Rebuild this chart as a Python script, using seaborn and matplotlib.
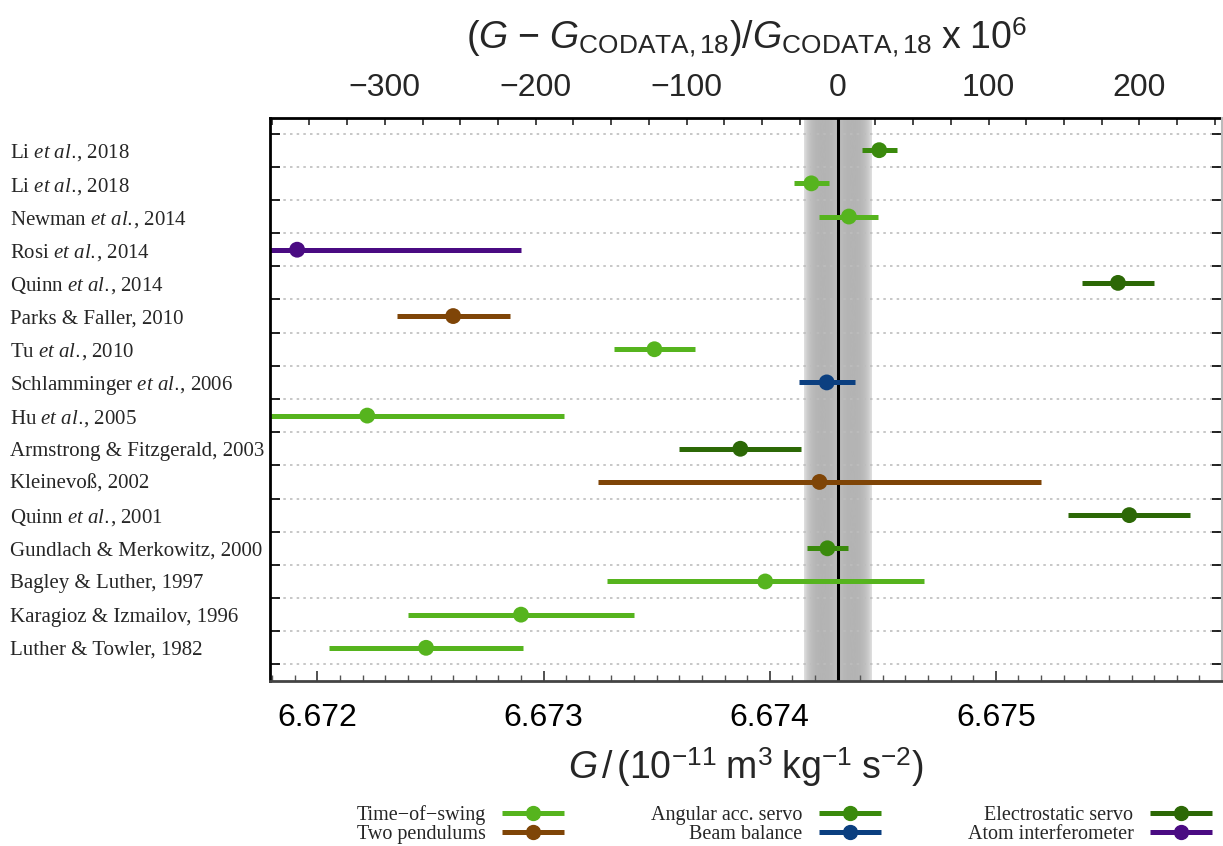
import numpy as np
import pandas as pd
import matplotlib.pyplot as plt
from matplotlib.lines import Line2D
import seaborn as sns

# measurements of G, top row first (units 1e-11 m^3 kg^-1 s^-2)
ETAL = "$\\mathit{et\\ al.}\\!$"
names = ["Li " + ETAL + ", 2018", "Li " + ETAL + ", 2018",
         "Newman " + ETAL + ", 2014", "Rosi " + ETAL + ", 2014",
         "Quinn " + ETAL + ", 2014", "Parks & Faller, 2010",
         "Tu " + ETAL + ", 2010", "Schlamminger " + ETAL + ", 2006",
         "Hu " + ETAL + ", 2005", "Armstrong & Fitzgerald, 2003",
         "Kleinevoß, 2002", "Quinn " + ETAL + ", 2001",
         "Gundlach & Merkowitz, 2000", "Bagley & Luther, 1997",
         "Karagioz & Izmailov, 1996", "Luther & Towler, 1982"]
g_values = [6.674484, 6.674184, 6.674350, 6.671910, 6.675540, 6.672600,
            6.673490, 6.674252, 6.672220, 6.673870, 6.674220, 6.675590,
            6.674255, 6.673980, 6.672900, 6.672480]
g_errors = [0.000078, 0.000078, 0.000130, 0.000990, 0.000160, 0.000250,
            0.000180, 0.000124, 0.000870, 0.000270, 0.000980, 0.000270,
            0.000092, 0.000700, 0.000500, 0.000430]
methods = ["Angular acc. servo", "Time\u2212of\u2212swing", "Time\u2212of\u2212swing",
           "Atom interferometer", "Electrostatic servo", "Two pendulums",
           "Time\u2212of\u2212swing", "Beam balance", "Time\u2212of\u2212swing",
           "Electrostatic servo", "Two pendulums", "Electrostatic servo",
           "Angular acc. servo", "Time\u2212of\u2212swing", "Time\u2212of\u2212swing",
           "Time\u2212of\u2212swing"]

legend_order = ["Time\u2212of\u2212swing", "Two pendulums", "Angular acc. servo",
                "Beam balance", "Electrostatic servo", "Atom interferometer"]
palette = {"Time\u2212of\u2212swing": "#56b41e", "Two pendulums": "#7f4507",
           "Angular acc. servo": "#3a8a0c", "Beam balance": "#0b3f80",
           "Electrostatic servo": "#2c6806", "Atom interferometer": "#4a0b82"}

G_CODATA = 6.67430
U_CODATA = 0.00015

df = pd.DataFrame({"G": g_values, "err": g_errors, "method": methods,
                   "row": np.arange(len(names))})

sns.set_theme(style="ticks")
plt.rcParams["font.family"] = ["Liberation Sans", "DejaVu Sans"]
plt.rcParams["mathtext.fontset"] = "custom"
plt.rcParams["mathtext.rm"] = "Liberation Sans"
plt.rcParams["mathtext.sf"] = "Liberation Sans:italic"
plt.rcParams["mathtext.it"] = "Liberation Serif:italic"

fig = plt.figure(figsize=(12.23, 8.46), dpi=100)
ax = fig.add_axes([270 / 1223, 1 - 681 / 846, 952 / 1223, 563 / 846])

xlim = (6.67179, 6.67600)
ylim = (16.0, -0.97)

# CODATA band with soft gradient
s = np.linspace(-1, 1, 201)
shade = 0.70 + 0.06 * (1 - np.abs(s)) ** 6 + 0.18 * np.abs(s) ** 6
ax.imshow(shade[np.newaxis, :], extent=(G_CODATA - U_CODATA, G_CODATA + U_CODATA, ylim[0], ylim[1]),
          aspect="auto", cmap="gray", vmin=0, vmax=1, zorder=0, interpolation="bicubic")
ax.axvline(G_CODATA, color="black", lw=2.2, zorder=1)

# error bars
for method, grp in df.groupby("method"):
    ax.hlines(grp["row"], grp["G"] - grp["err"], grp["G"] + grp["err"],
              colors=palette[method], lw=3.6, capstyle="butt", zorder=2)

sns.scatterplot(data=df, x="G", y="row", hue="method", palette=palette, s=130,
                linewidth=0, legend=False, ax=ax, zorder=3)

ax.set_xlim(*xlim)
ax.set_ylim(*ylim)

# y axis: labels at rows, ticks/grid at boundaries
ax.set_yticks(np.arange(-0.5, len(names), 1))
ax.set_yticklabels([])
ax.set_yticks(np.arange(len(names)), labels=names, minor=True)
for lab in ax.get_yticklabels(minor=True):
    lab.set_horizontalalignment("left")
    lab.set_fontfamily(["Liberation Serif", "DejaVu Serif"])
    lab.set_fontsize(15)
ax.tick_params(axis="y", which="minor", length=0, pad=187)
ax.tick_params(axis="y", which="major", direction="in", length=7, width=1.2,
               left=True, right=True, color="black")
for t in ax.yaxis.get_major_ticks():
    t.tick2line.set_color("#777777")
ax.grid(axis="y", which="major", ls=(0, (1.5, 2.5)), color="#bdbdbd", lw=1.2)
ax.set_ylabel("")

# bottom axis
ax.set_xticks([6.672, 6.673, 6.674, 6.675], labels=["6.672", "6.673", "6.674", "6.675"])
ax.set_xticks(np.arange(6.6718, 6.6760, 0.0001), minor=True)
ax.tick_params(axis="x", which="major", direction="in", length=7, width=1.2,
               labelsize=23, pad=16, top=False, colors="#333333", labelcolor="black")
ax.tick_params(axis="x", which="minor", direction="in", length=4, width=1.0,
               top=False, color="#555555")
ax.set_xlabel(r"$\mathsf{G}\,/\,(10^{-11}\ \mathrm{m}^3\ \mathrm{kg}^{-1}\ \mathrm{s}^{-2})$",
              fontsize=27, labelpad=9)

# top axis in ppm relative to CODATA 2018
secax = ax.secondary_xaxis("top", functions=(lambda g: (g - G_CODATA) / G_CODATA * 1e6,
                                             lambda p: G_CODATA * (1 + p * 1e-6)))
secax.set_xticks([-300, -200, -100, 0, 100, 200])
secax.set_xticks(np.arange(-375, 260, 25), minor=True)
secax.tick_params(axis="x", which="both", direction="in", length=5, width=1.2,
                  labelsize=23, pad=11)
secax.set_xlabel(r"$(\mathsf{G}\,-\,\mathsf{G}_{\mathrm{CODATA,18}})/\mathsf{G}_{\mathrm{CODATA,18}}\ \mathrm{x}\ 10^6$",
                 fontsize=27, labelpad=17)

ax.spines["top"].set_visible(False)
secax.spines["top"].set_linewidth(2)
secax.spines["top"].set_color("black")
ax.spines["left"].set_linewidth(2)
ax.spines["left"].set_color("black")
ax.spines["bottom"].set_linewidth(2)
ax.spines["bottom"].set_color("#444444")
ax.spines["right"].set_linewidth(1.5)
ax.spines["right"].set_color("#bbbbbb")

handles = [Line2D([], [], color=palette[m], lw=3.6, marker="o", markersize=10,
                  solid_capstyle="butt") for m in legend_order]
fig.legend(handles, legend_order, ncol=3, markerfirst=False, loc="lower right",
           bbox_to_anchor=(1212 / 1223, 2 / 846), frameon=False,
           prop={"family": ["Liberation Serif", "DejaVu Serif"], "size": 14.5},
           handlelength=3.1, handletextpad=0.8, columnspacing=4.3, labelspacing=0.0,
           borderaxespad=0, borderpad=0.0)

fig.savefig("out.png", dpi=100)
